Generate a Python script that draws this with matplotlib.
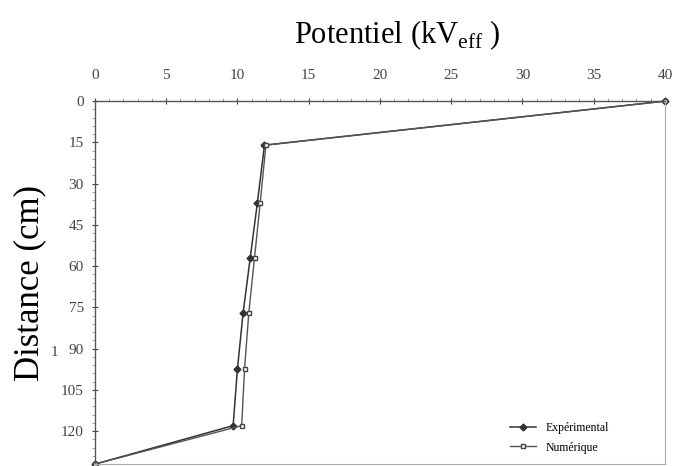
import matplotlib
matplotlib.use("Agg")
import matplotlib.pyplot as plt
from matplotlib.ticker import MultipleLocator

plt.rcParams['font.family'] = 'Liberation Serif'
plt.rcParams['mathtext.fontset'] = 'custom'
plt.rcParams['mathtext.rm'] = 'Liberation Serif'

# distance (cm) vs potentiel (kV eff)
distance = [0, 16, 37, 57, 77, 97.5, 118, 132]
experimental = [40, 11.9, 11.4, 10.9, 10.4, 10.0, 9.7, 0]
numerique = [40, 12.0, 11.6, 11.2, 10.8, 10.5, 10.3, 0]

xticks = [0, 5, 10, 15, 20, 25, 30, 35, 40]
yticks = [0, 15, 30, 45, 60, 75, 90, 105, 120]

fig = plt.figure(figsize=(6.73, 4.66), dpi=100)
ax = fig.add_axes([0.141, 0.004, 0.847, 0.779])

ax.plot(experimental, distance, '-', color='#333333', lw=1.1,
        marker='D', ms=3.5, mfc='#333333', mec='#333333',
        label='Expérimental', clip_on=False)
ax.plot(numerique, distance, '-', color='#555555', lw=1.0,
        marker='s', ms=3, mfc='white', mec='#444444',
        label='Numérique', clip_on=False)

ax.set_xlim(0, 40)
ax.set_ylim(132, 0)
ax.set_xticks(xticks)
ax.set_yticks(yticks)
ax.xaxis.tick_top()
ax.xaxis.set_label_position('top')
ax.yaxis.set_minor_locator(MultipleLocator(3))
ax.xaxis.set_minor_locator(MultipleLocator(1))

ax.tick_params(axis='both', which='major', labelsize=11, colors='#444444',
               length=4, direction='inout', pad=6)
ax.tick_params(axis='both', which='minor', length=2, color='#999999',
               direction='out')
ax.tick_params(axis='x', pad=12)

for s in ['top', 'left']:
    ax.spines[s].set_color('#555555')
    ax.spines[s].set_linewidth(1.0)
for s in ['right', 'bottom']:
    ax.spines[s].set_color('#aaaaaa')
    ax.spines[s].set_linewidth(0.8)

ax.set_xlabel('Potentiel (kV$_{\\mathrm{eff}}$ )', fontsize=22)
ax.xaxis.set_label_coords(0.53, 1.16)
ax.set_ylabel('Distance (cm)', fontsize=25)
ax.yaxis.set_label_coords(-0.085, 0.5)

fig.text(51 / 673, 1 - 352 / 466, '1', fontsize=11, color='#444444',
         ha='left', va='center')

ax.legend(loc='lower right', frameon=False, fontsize=8.5, handlelength=2.2,
          borderaxespad=0.5, labelspacing=0.6, bbox_to_anchor=(0.92, 0.0))

fig.savefig('out.png', dpi=100)
